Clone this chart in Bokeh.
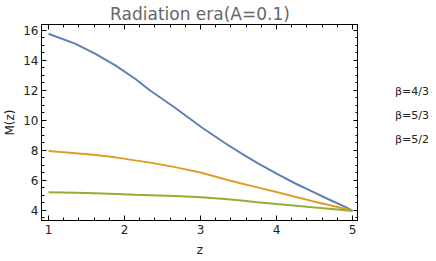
from bokeh.plotting import figure
from bokeh.layouts import row
from bokeh.models import Legend, LegendItem, LinearAxis, Range1d, FixedTicker
from bokeh.embed import file_html
from bokeh.resources import INLINE

# data
z = [1.0, 1.357, 1.618, 1.88, 2.14, 2.337, 2.664, 3.013, 3.32, 3.536,
     3.75, 4.037, 4.255, 4.473, 4.69, 4.91, 5.0]
m_b43 = [15.78, 15.11, 14.44, 13.67, 12.78, 12.0, 10.85, 9.55, 8.5, 7.8,
         7.15, 6.35, 5.78, 5.25, 4.73, 4.22, 3.97]
m_b53 = [7.96, 7.82, 7.69, 7.54, 7.34, 7.19, 6.89, 6.51, 6.08, 5.8,
         5.54, 5.18, 4.9, 4.62, 4.36, 4.1, 3.97]
m_b52 = [5.22, 5.18, 5.14, 5.09, 5.04, 5.01, 4.96, 4.88, 4.76, 4.66,
         4.55, 4.42, 4.32, 4.22, 4.12, 4.01, 3.97]
labels = ["β=4/3", "β=5/3", "β=5/2"]
colors = ["#5E81B5", "#E19C24", "#8FB032"]
x_ticks = [1, 2, 3, 4, 5]
y_ticks = [4, 6, 8, 10, 12, 14, 16]
x_lo, x_hi = 0.908, 5.078
y_lo, y_hi = 3.33, 16.4

FONT = "DejaVu Sans"
FW, FH = 317, 196

p = figure(frame_width=FW, frame_height=FH, output_backend="svg", toolbar_location=None,
           x_range=Range1d(x_lo, x_hi), y_range=Range1d(y_lo, y_hi),
           min_border_left=0, min_border_right=0, min_border_top=0, min_border_bottom=0)

p.title.text = "Radiation era(A=0.1)"
p.title.align = "center"
p.title.text_color = "#666666"
p.title.text_font = FONT
p.title.text_font_size = "17px"
p.title.text_font_style = "normal"
p.title.standoff = 2

p.xgrid.visible = False
p.ygrid.visible = False
p.outline_line_color = "black"
p.outline_line_width = 1

x_minor = [round(0.8 + 0.2 * i, 2) for i in range(23)]
y_minor = [round(3.0 + 0.5 * i, 2) for i in range(28)]


def style_axis(ax, hide=None):
    ax.major_tick_in = 5
    ax.major_tick_out = 0
    ax.minor_tick_in = 3
    ax.minor_tick_out = 0
    ax.axis_line_color = "black"
    ax.major_tick_line_color = "black"
    ax.minor_tick_line_color = "black"
    ax.major_label_text_font = FONT
    ax.major_label_text_font_size = "12px"
    ax.major_label_text_color = "#222222"
    ax.axis_label_text_font = FONT
    ax.axis_label_text_font_size = "12px"
    ax.axis_label_text_font_style = "normal"
    ax.axis_label_text_color = "#222222"
    if hide is not None:
        ax.major_label_overrides = {t: "" for t in hide}
        ax.major_label_standoff = 0


p.xaxis.ticker = FixedTicker(ticks=x_ticks, minor_ticks=x_minor)
p.yaxis.ticker = FixedTicker(ticks=y_ticks, minor_ticks=y_minor)
style_axis(p.xaxis[0])
style_axis(p.yaxis[0])
p.xaxis.axis_label = "z"
p.yaxis.axis_label = "M(z)"
p.xaxis.major_label_standoff = 4
p.xaxis.axis_label_standoff = 6
p.yaxis.major_label_standoff = 3
p.yaxis.axis_label_standoff = 3

top_ax = LinearAxis(ticker=FixedTicker(ticks=x_ticks, minor_ticks=x_minor))
style_axis(top_ax, hide=x_ticks)
p.add_layout(top_ax, "above")
right_ax = LinearAxis(ticker=FixedTicker(ticks=y_ticks, minor_ticks=y_minor),
                      fixed_location=x_hi)
style_axis(right_ax, hide=y_ticks)
p.add_layout(right_ax, "right")

for ys, c in zip([m_b43, m_b53, m_b52], colors):
    p.line(z, ys, line_color=c, line_width=2)

# legend panel as a small companion figure to the right
p2 = figure(frame_width=80, frame_height=FH, output_backend="svg", toolbar_location=None,
            x_range=Range1d(0, 1), y_range=Range1d(0, 1),
            min_border_left=0, min_border_right=0, min_border_top=16, min_border_bottom=0)
p2.xaxis.visible = False
p2.yaxis.visible = False
p2.xgrid.visible = False
p2.ygrid.visible = False
p2.outline_line_color = None

leg_renderers = [p2.line(x=[], y=[], line_color=c, line_width=2) for c in colors]
legend = Legend(items=[LegendItem(label=l, renderers=[r]) for l, r in zip(labels, leg_renderers)],
                location=(12, 52))
legend.border_line_color = None
legend.background_fill_alpha = 0
legend.label_text_font = FONT
legend.label_text_font_size = "11px"
legend.label_text_color = "#222222"
legend.glyph_width = 20
legend.glyph_height = 20
legend.spacing = 4
legend.label_standoff = 5
legend.padding = 4
legend.margin = 0
p2.add_layout(legend, "center")

layout = row(p, p2)
open("out.html", "w").write(file_html(layout, INLINE))
